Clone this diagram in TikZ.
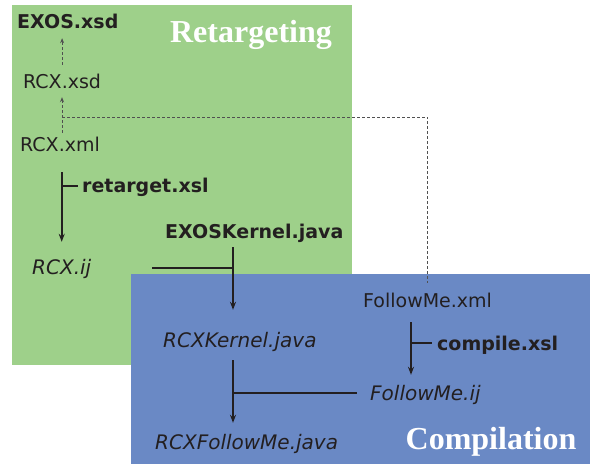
\documentclass[tikz,border=0pt]{standalone}
\usepackage{fontspec}
\setmainfont{DejaVu Sans}
\newfontfamily\phasefont{Liberation Serif}
\usetikzlibrary{positioning,arrows.meta,calc}
\definecolor{retgreen}{RGB}{158,208,138}
\definecolor{compblue}{RGB}{106,137,197}
\definecolor{inktext}{RGB}{35,31,32}
\definecolor{linkgray}{RGB}{80,80,80}

\begin{document}
\begin{tikzpicture}[x=1bp,y=-1bp,
  file/.style={inner sep=0pt,anchor=west,text=inktext,text height=14bp,text depth=0pt,
    font=\fontsize{19bp}{21bp}\selectfont},
  tool/.style={file,font=\fontsize{19bp}{21bp}\selectfont\bfseries},
  gen/.style={file,font=\fontsize{20bp}{22bp}\selectfont\itshape},
  phase/.style={inner sep=0pt,text=white,font=\fontsize{32bp}{34bp}\phasefont\bfseries},
  flow/.style={line width=1.6bp,inktext,-{Stealth[length=8bp,width=6bp]}},
  tick/.style={line width=1.6bp,inktext},
  link/.style={line width=0.8bp,linkgray,dash pattern=on 3bp off 2bp,-{Stealth[length=5bp,width=4bp]}},
  linkline/.style={line width=0.8bp,linkgray,dash pattern=on 3bp off 2bp}]
\useasboundingbox (0,0) rectangle (595,466);
% Panels
\fill[retgreen] (12,5) rectangle (352,365);
\fill[compblue] (131,274) rectangle (590,464);
\node[phase] (retlabel) at (251,35) {Retargeting};
\node[phase] (complabel) at (491,442) {Compilation};
% Retargeting files
\node[tool] (exosxsd) at (17,22) {EXOS.xsd};
\node[file] (rcxxsd) at (23,82) {RCX.xsd};
\node[file] (rcxxml) at (20,145) {RCX.xml};
\node[tool] (retarget) at (82,186) {retarget.xsl};
\node[tool] (exoskernel) at (165,232) {EXOSKernel.java};
\node[gen] (rcxij) at (32,268) {RCX.ij};
% Compilation files
\node[file] (followxml) at (363,300) {FollowMe.xml};
\node[gen] (rcxkernel) at (163,340) {RCXKernel.java};
\node[tool] (compile) at (437,343) {compile.xsl};
\node[gen] (followij) at (370,393) {FollowMe.ij};
\node[gen] (rcxfollow) at (155,442) {RCXFollowMe.java};
% Joints
\coordinate (xsdtap) at (62,117);
\coordinate (ijtap) at (152,268);
\coordinate (kjoin) at (233,268);
\coordinate (cjoin) at (411,343);
\coordinate (fjoin) at (233,393);
% Schema links
\draw[link,shorten <=10bp,shorten >=9bp] (rcxxsd.north) -- (rcxxsd.north |- exosxsd.south);
\draw[link,shorten <=5bp,shorten >=8bp] (xsdtap |- rcxxml.north) -- (xsdtap |- rcxxsd.south);
\draw[linkline,shorten >=10bp] (xsdtap) -| (followxml.north);
% Retarget step
\draw[flow,shorten <=20bp,shorten >=19bp] (rcxij.north |- rcxxml.south) -- (rcxij.north);
\draw[tick,shorten >=4bp] (rcxij.north |- retarget.west) -- (retarget.west);
% Kernel step
\draw[tick] (ijtap) -- (kjoin);
\draw[flow,shorten <=8bp,shorten >=23bp] (kjoin |- exoskernel.south) -- (kjoin |- rcxkernel.north);
% Compile step
\draw[flow,shorten <=15bp,shorten >=11bp] (cjoin |- followxml.south) -- (cjoin |- followij.north);
\draw[tick,shorten >=5bp] (cjoin) -- (compile.west);
% Merge step
\draw[flow,shorten <=13bp,shorten >=12bp] (fjoin |- rcxkernel.south) -- (fjoin |- rcxfollow.north);
\draw[tick,shorten >=13bp] (fjoin) -- (followij.west);
\end{tikzpicture}
\end{document}
